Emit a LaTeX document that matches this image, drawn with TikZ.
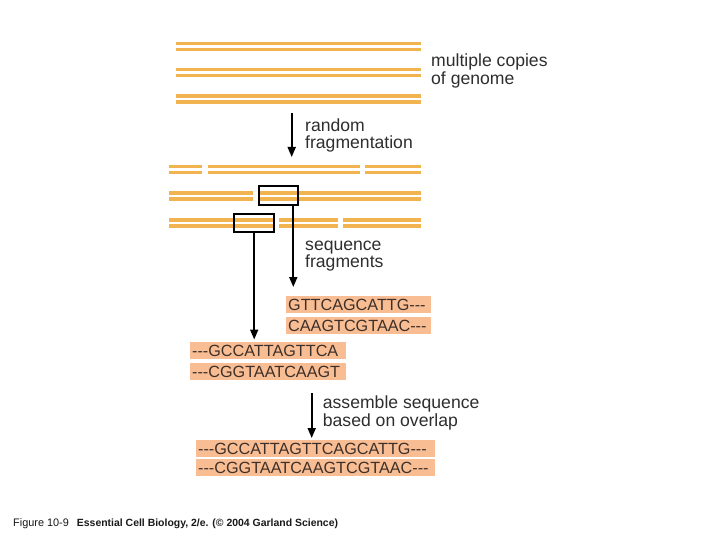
\documentclass[tikz,border=0pt]{standalone}
\usepackage{fontspec}
\setmainfont{Liberation Sans}[Ligatures=TeXOff]
\usetikzlibrary{arrows.meta}
\definecolor{strandc}{HTML}{F2B451}
\definecolor{seqfill}{HTML}{F9BD94}
\definecolor{labc}{HTML}{2E2E2E}
\definecolor{seqtxt}{HTML}{3D3029}
\tikzset{
  strand/.style={line width=3.6pt, strandc},
  selbox/.style={draw=black, line width=2pt, inner sep=0pt},
  arr/.style={line width=1.8pt, -{Triangle[width=8pt,length=10pt]}},
  seqbox/.style={fill=seqfill, inner xsep=2pt, inner ysep=0pt, minimum height=17pt,
    text height=12pt, text depth=0pt, align=left, anchor=west, text=seqtxt,
    font=\fontsize{16.2}{17}\selectfont},
  lab/.style={align=left, text=labc, inner sep=0pt, anchor=base west,
    font=\fontsize{17.6}{17.5}\selectfont},
}
\newcommand\dstrand[3]{\draw[strand] (#1,#3) -- (#2,#3); \draw[strand] (#1,#3+6) -- (#2,#3+6);}
\begin{document}
\begin{tikzpicture}[x=1pt,y=-1pt]
\fill[white] (0,0) rectangle (720,540);
\useasboundingbox (0,0) rectangle (720,540);
% genome copies
\dstrand{176}{421}{43.7}
\dstrand{176}{421}{69.7}
\dstrand{176}{421}{96}
\node[lab] (mult) at (431,84.5) {multiple copies\\of genome};
% fragmentation arrow
\coordinate (f1) at (291.7,113);
\coordinate (f2) at (291.7,157);
\draw[arr] (f1) -- (f2);
\node[lab] (rand) at (305,149) {random\\fragmentation};
% fragments
\dstrand{169}{201.7}{166.7}
\dstrand{207.7}{360}{166.7}
\dstrand{365}{421}{166.7}
\dstrand{169}{253.3}{193}
\dstrand{260}{421}{193}
\dstrand{169}{273.3}{220}
\dstrand{279.3}{337.7}{220}
\dstrand{343.3}{421}{220}
\node[selbox, minimum width=39pt, minimum height=18.7pt] (b1) at (278.8,195.7) {};
\node[selbox, minimum width=39.7pt, minimum height=18.6pt] (b2) at (254.2,223) {};
\node[lab] (seqf) at (305,267.5) {sequence\\fragments};
% sequence reads
\node[seqbox, text width=140.7pt] (s1) at (286,304) {\mbox{GTTCAGCATTG---}};
\node[seqbox, text width=140.7pt] (s2) at (286,325.5) {\mbox{CAAGTCGTAAC---}};
\node[seqbox, text width=151.7pt] (s3) at (190,350.5) {\mbox{---GCCATTAGTTCA}};
\node[seqbox, text width=151.7pt] (s4) at (190,371) {\mbox{---CGGTAATCAAGT}};
\coordinate (t1) at (293.3,287);
\coordinate (t2) at (254.2,339.5);
\draw[arr] (b1.south -| t1) -- (t1);
\draw[arr] (b2.south) -- (t2);
% assembly
\coordinate (a1) at (311.7,393);
\coordinate (a2) at (311.7,438);
\draw[arr] (a1) -- (a2);
\node[lab] (asm) at (322.7,426) {assemble sequence\\based on overlap};
\node[seqbox, text width=235pt] (sa) at (196,448) {\mbox{---GCCATTAGTTCAGCATTG---}};
\node[seqbox, text width=235pt] (sb) at (196,467.5) {\mbox{---CGGTAATCAAGTCGTAAC---}};
% caption
\node[anchor=base west, inner sep=0pt, text=black!90] (cap) at (13,526)
  {\fontsize{10.9}{12}\selectfont Figure 10-9\hspace{8pt}{\fontsize{10.45}{12}\selectfont\bfseries Essential Cell Biology, 2/e. (© 2004 Garland Science)}};
\end{tikzpicture}
\end{document}
